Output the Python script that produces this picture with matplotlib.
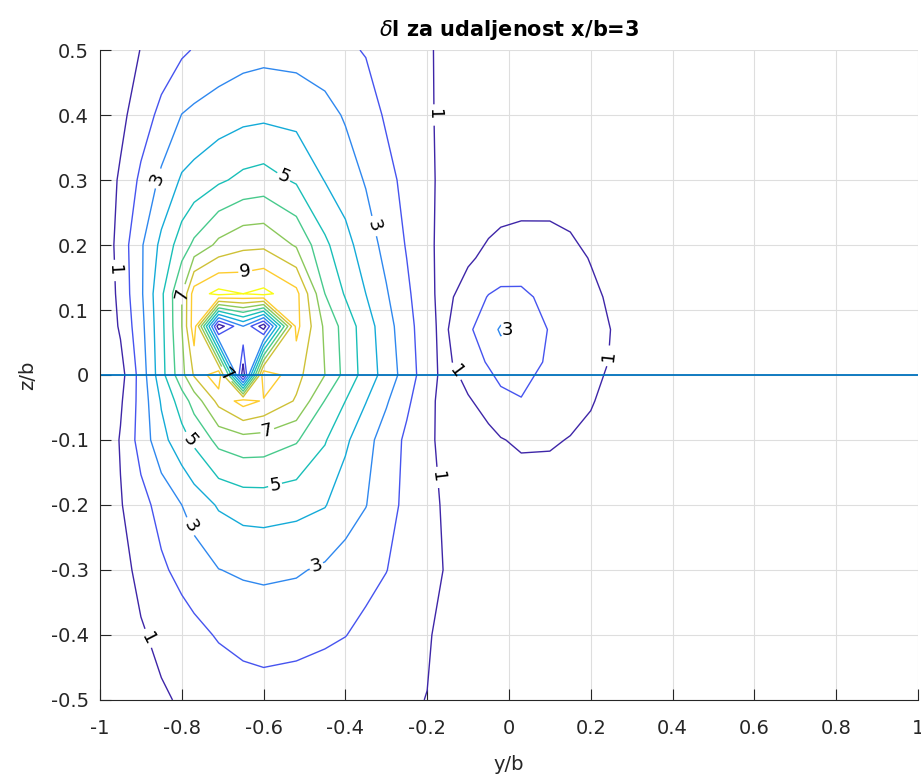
import numpy as np
import matplotlib
matplotlib.use("Agg")
import matplotlib.pyplot as plt
from matplotlib.colors import LinearSegmentedColormap, Normalize

plt.rcParams['font.family'] = ['DejaVu Sans']

# delta l field of the left vortex (rows = z/b, cols = y/b)
y_left = [-1.0, -0.95, -0.9, -0.85, -0.8, -0.77, -0.71, -0.65, -0.6, -0.52,
          -0.45, -0.4, -0.35, -0.3, -0.25, -0.2, -0.15]
z_left = [0.5, 0.4, 0.3, 0.2, 0.125, 0.075, 0.0, -0.04, -0.1, -0.2, -0.3, -0.4, -0.5]
dl_left = [
    [0.35, 0.65, 1.02, 1.43, 1.84, 2.06, 2.35, 2.6, 2.7, 2.62, 2.4, 2.15, 1.94, 1.62, 1.35, 1.08, 0.82],
    [0.3, 0.76, 1.5, 2.26, 3.02, 3.2, 3.5, 3.72, 3.8, 3.7, 3.35, 2.9, 2.45, 1.88, 1.5, 1.1, 0.8],
    [0.35, 1.13, 2.2, 3.2, 4.13, 4.37, 4.84, 5.25, 5.4, 4.87, 3.96, 3.5, 2.92, 2.3, 1.73, 1.16, 0.75],
    [0.1, 1.43, 2.86, 4.25, 5.5, 6.2, 7.25, 7.75, 7.8, 6.89, 5.2, 4.33, 3.5, 2.69, 1.93, 1.21, 0.6],
    [0.0, 1.32, 2.83, 4.8, 7.0, 9.5, 10.3, 10.0, 10.3, 9.3, 6.0, 4.9, 4.0, 3.09, 2.18, 1.3, 0.5],
    [0.05, 1.14, 2.67, 4.72, 7.0, 9.6, 0.4, 3.0, 0.4, 9.3, 6.8, 5.58, 4.48, 3.4, 2.38, 1.36, 0.55],
    [0.0, 0.62, 2.4, 4.64, 6.68, 8.1, 9.8, 0.4, 9.8, 8.3, 7.0, 5.68, 4.58, 3.59, 2.54, 1.43, 0.6],
    [0.0, 0.86, 2.36, 4.1, 5.49, 6.4, 8.3, 9.4, 8.9, 7.9, 5.96, 5.0, 4.04, 3.11, 2.18, 1.33, 0.5],
    [0.0, 1.08, 2.39, 3.67, 4.64, 5.2, 6.3, 6.6, 6.55, 6.1, 5.08, 4.18, 3.33, 2.54, 1.82, 1.24, 0.6],
    [0.2, 0.93, 1.66, 2.35, 3.0, 3.43, 4.1, 4.4, 4.44, 4.3, 4.05, 3.45, 3.03, 2.36, 1.77, 1.3, 0.82],
    [0.35, 0.67, 1.26, 1.84, 2.28, 2.5, 2.98, 3.13, 3.18, 3.1, 2.85, 2.6, 2.28, 2.02, 1.64, 1.28, 0.92],
    [0.3, 0.6, 0.9, 1.23, 1.55, 1.75, 2.08, 2.3, 2.4, 2.3, 2.15, 2.02, 1.78, 1.55, 1.3, 1.06, 0.8],
    [0.2, 0.4, 0.65, 0.88, 1.1, 1.22, 1.42, 1.55, 1.6, 1.55, 1.45, 1.35, 1.25, 1.15, 1.06, 0.99, 0.8],
]

# the weaker vortex near y/b = 0
y_right = [-0.2, -0.15, -0.1, -0.05, -0.02, 0.03, 0.1, 0.15, 0.2, 0.25, 0.3]
z_right = [0.3, 0.24, 0.18, 0.12, 0.07, 0.02, -0.04, -0.1, -0.16, -0.22]
dl_right = [
    [0.0, 0.0, 0.0, 0.0, 0.0, 0.0, 0.0, 0.0, 0.0, 0.0, 0.0],
    [0.0, 0.2, 0.5, 0.75, 0.88, 0.97, 0.97, 0.85, 0.55, 0.25, 0.0],
    [0.1, 0.5, 0.85, 1.25, 1.45, 1.6, 1.55, 1.3, 0.95, 0.6, 0.2],
    [0.2, 0.8, 1.5, 2.05, 2.2, 2.15, 1.8, 1.5, 1.22, 0.85, 0.4],
    [0.3, 0.97, 1.82, 2.6, 3.12, 2.75, 1.93, 1.6, 1.3, 0.99, 0.5],
    [0.25, 0.85, 1.5, 2.1, 2.5, 2.45, 1.85, 1.55, 1.3, 0.95, 0.4],
    [0.1, 0.5, 0.9, 1.35, 1.7, 1.95, 1.65, 1.4, 1.1, 0.6, 0.2],
    [0.0, 0.2, 0.5, 0.75, 0.95, 1.15, 1.12, 0.95, 0.7, 0.35, 0.0],
    [0.0, 0.0, 0.2, 0.4, 0.55, 0.7, 0.7, 0.55, 0.35, 0.1, 0.0],
    [0.0, 0.0, 0.0, 0.0, 0.0, 0.0, 0.0, 0.0, 0.0, 0.0, 0.0],
]

odd_levels = [1, 3, 5, 7, 9]     # these carry labels
even_levels = [2, 4, 6, 8, 10]

x_ticks = [-1, -0.8, -0.6, -0.4, -0.2, 0, 0.2, 0.4, 0.6, 0.8, 1]
x_ticklabels = ['-1', '-0.8', '-0.6', '-0.4', '-0.2', '0', '0.2', '0.4', '0.6', '0.8', '1']
z_ticks = [-0.5, -0.4, -0.3, -0.2, -0.1, 0, 0.1, 0.2, 0.3, 0.4, 0.5]
z_ticklabels = ['-0.5', '-0.4', '-0.3', '-0.2', '-0.1', '0', '0.1', '0.2', '0.3', '0.4', '0.5']

# spots where matlab put the contour labels
left_label_pos = [(-0.186, 0.40), (-0.98, 0.16), (-0.169, -0.157), (-0.878, -0.403),
                  (-0.853, 0.30), (-0.333, 0.228), (-0.787, -0.238), (-0.469, -0.30),
                  (-0.553, 0.30), (-0.785, -0.105), (-0.572, -0.169),
                  (-0.812, 0.126), (-0.592, -0.082), (-0.692, 0.0),
                  (-0.645, 0.16)]
right_label_pos = [(-0.115, 0.015), (0.254, 0.028), (0.01, 0.07)]

# parula-like colours
parula = LinearSegmentedColormap.from_list('parula', [
    (0.2422, 0.1504, 0.6603), (0.2780, 0.3556, 0.9777), (0.1540, 0.5902, 0.9218),
    (0.0400, 0.7100, 0.8100), (0.1500, 0.7800, 0.6500), (0.4420, 0.8031, 0.4272),
    (0.7500, 0.7500, 0.2200), (0.9941, 0.7741, 0.2008), (0.9769, 0.9839, 0.0805)])
norm = Normalize(vmin=1, vmax=10)

fig = plt.figure(figsize=(9.21, 7.78), dpi=100)
ax = fig.add_axes([0.1086, 0.1003, 0.8880, 0.8354])

kw = dict(cmap=parula, norm=norm, linewidths=1.0)
ax.contour(y_left, z_left, dl_left, levels=even_levels, **kw)
cs1 = ax.contour(y_left, z_left, dl_left, levels=odd_levels, **kw)
ax.contour(y_right, z_right, dl_right, levels=even_levels, **kw)
cs2 = ax.contour(y_right, z_right, dl_right, levels=odd_levels, **kw)

ax.clabel(cs1, manual=left_label_pos, inline=True, fmt='%d', fontsize=13, colors='k')
ax.clabel(cs2, manual=right_label_pos, inline=True, fmt='%d', fontsize=13, colors='k')
cs2.labelTexts[-1].set_rotation(0)

ax.axhline(0, color='#0072bd', lw=1.3)

ax.set_xlim(-1, 1)
ax.set_ylim(-0.5, 0.5)
ax.set_xticks(x_ticks)
ax.set_xticklabels(x_ticklabels)
ax.set_yticks(z_ticks)
ax.set_yticklabels(z_ticklabels)
ax.tick_params(direction='in', length=8, width=0.8, labelsize=14, colors='#262626')
ax.tick_params(axis='x', pad=14)
ax.tick_params(axis='y', pad=8)
ax.grid(True, color='#dedede', lw=0.8)
ax.set_axisbelow(True)
for s in ['top', 'right']:
    ax.spines[s].set_visible(False)
for s in ['left', 'bottom']:
    ax.spines[s].set_color('#262626')
    ax.spines[s].set_linewidth(0.8)

ax.set_title(r'$\delta$l za udaljenost x/b=3', fontsize=15, fontweight='bold', pad=10)
ax.set_xlabel('y/b', fontsize=14, color='#262626', labelpad=12)
ax.set_ylabel('z/b', fontsize=14, color='#262626', labelpad=10)

fig.savefig('out.png', dpi=100)
